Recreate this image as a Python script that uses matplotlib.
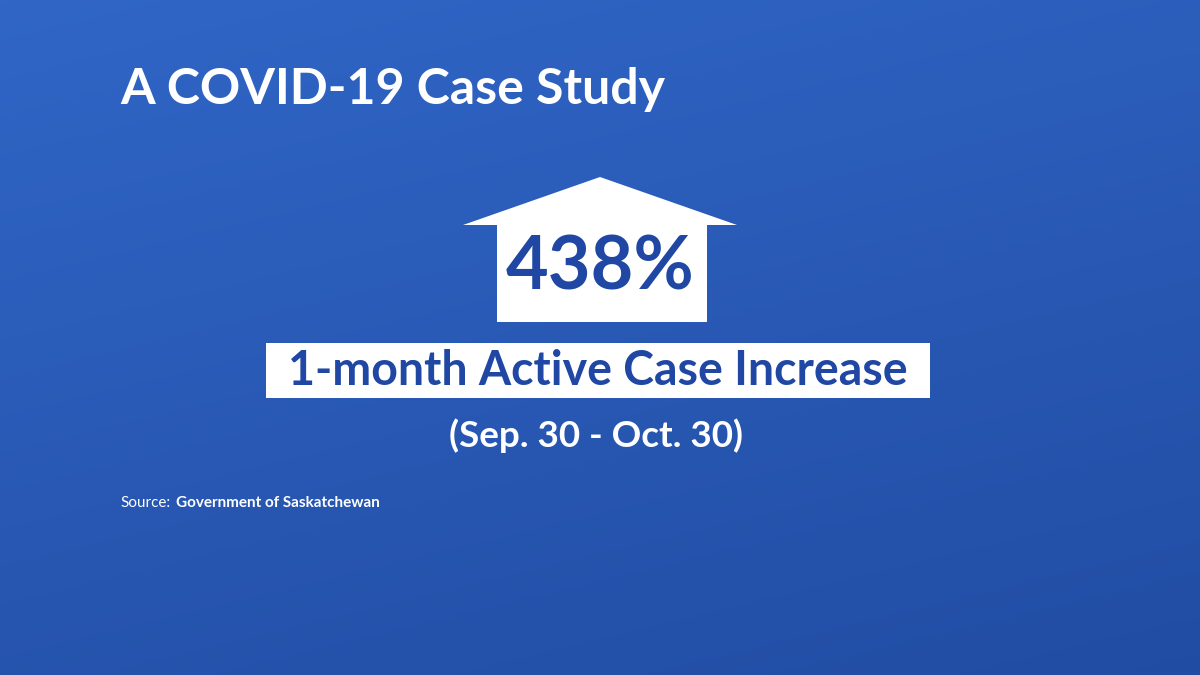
import numpy as np
import matplotlib
matplotlib.use("Agg")
import matplotlib.pyplot as plt
from matplotlib.patches import Polygon, Rectangle

plt.rcParams['font.family'] = ['Lato', 'DejaVu Sans']

title = "A COVID-19 Case Study"
increase_pct = 438
label = "1-month Active Case Increase"
period = "(Sep. 30 - Oct. 30)"
source_name = "Government of Saskatchewan"

fig = plt.figure(figsize=(12, 6.75), dpi=100)
ax = fig.add_axes([0, 0, 1, 1])
ax.set_xlim(0, 1200)
ax.set_ylim(675, 0)
ax.axis('off')

# background gradient
yy, xx = np.mgrid[0:1:200j, 0:1:200j]
top = np.array([0.19, 0.40, 0.78])
bot = np.array([0.13, 0.30, 0.64])
t = (0.7 * yy + 0.3 * xx)[..., None]
img = top * (1 - t) + bot * t
ax.imshow(img, extent=[0, 1200, 675, 0], aspect='auto', zorder=0)

dark = '#1f47a3'
# arrow / house shape
ax.add_patch(Polygon([[463, 225], [600, 177], [737, 225]], closed=True,
                     facecolor='white', edgecolor='none', zorder=2))
ax.add_patch(Rectangle((497, 224), 210, 98, facecolor='white', edgecolor='none', zorder=2))
ax.text(600, 268, f"{increase_pct}%", ha='center', va='center', fontsize=53,
        fontweight='bold', color=dark, zorder=3)

ax.add_patch(Rectangle((266, 343), 664, 55, facecolor='white', edgecolor='none', zorder=2))
ax.text(598, 371, label, ha='center', va='center', fontsize=33.5,
        fontweight='bold', color=dark, zorder=3)

ax.text(596, 436, period, ha='center', va='center', fontsize=26.5,
        fontweight='bold', color='white', zorder=3)

ax.text(120, 89, title, ha='left', va='center', fontsize=36,
        fontweight='bold', color='white', zorder=3)

ax.text(120, 503, "Source:", ha='left', va='center', fontsize=11, color='white', zorder=3)
ax.text(176, 503, source_name, ha='left', va='center', fontsize=11,
        fontweight='bold', color='white', zorder=3)

fig.savefig("out.png", dpi=100)
